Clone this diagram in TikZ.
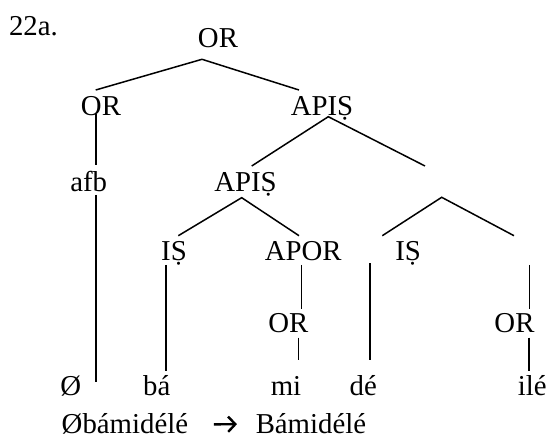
\documentclass[tikz,border=0pt]{standalone}
\usepackage{fontspec}
\setmainfont{Liberation Serif}
\usepackage{tikz}
\usetikzlibrary{positioning,arrows.meta}
\tikzset{lbl/.style={anchor=base,inner sep=0pt}}

\begin{document}
\begin{tikzpicture}[x=0.5pt,y=-0.5pt,line width=0.75pt,font=\fontsize{14.4}{17}\selectfont]
		\useasboundingbox (0,0) rectangle (548,439);

		% labels
		\node[lbl,anchor=base west] (num) at (8.3,35) {22a.};
		\node[lbl] (or0) at (218,47.3) {OR};
		\node[lbl] (or1) at (101,116) {OR};
		\node[lbl] (apis1) at (322,116) {APIṢ};
		\node[lbl] (afb) at (88.7,191.7) {afb};
		\node[lbl] (apis2) at (245.5,191.7) {APIṢ};
		\node[lbl] (is1) at (174,260.7) {IṢ};
		\node[lbl] (apor) at (303.3,260.7) {APOR};
		\node[lbl] (is2) at (408.2,260.7) {IṢ};
		\node[lbl] (or2) at (288.3,332.7) {OR};
		\node[lbl] (or3) at (514.5,332.7) {OR};

		\node[lbl] (w0) at (70.8,395) {Ø};
		\node[lbl] (w1) at (156.7,395) {bá};
		\node[lbl] (w2) at (286,395) {mi};
		\node[lbl] (w3) at (363.3,395) {dé};
		\node[lbl] (w4) at (532.3,395) {ilé};

		\node[lbl,anchor=base west] (in) at (61,434) {Øbámidélé};
		\node[lbl,anchor=base west] (out) at (255,434) {Bámidélé};
		\draw[-{Straight Barb[length=3.6pt,width=7.6pt]},line width=1.2pt]
			([xshift=12.5pt]in.east) -- ([xshift=-9pt]out.west);

		% branch points
		\coordinate (b0) at (202,59.3);
		\coordinate (b0l) at (95.7,90);
		\coordinate (b0r) at (299,90);
		\coordinate (b1) at (328.3,116.7);
		\coordinate (b1l) at (251.7,166);
		\coordinate (b1r) at (425,166);
		\coordinate (b2) at (241.7,197.7);
		\coordinate (b2l) at (178.3,235.7);
		\coordinate (b2r) at (299,235.7);
		\coordinate (b3) at (441.7,197.3);
		\coordinate (b3l) at (382.3,235.7);
		\coordinate (b3r) at (514,235.7);

		\draw (b0l) -- (b0) -- (b0r);
		\draw (b1l) -- (b1) -- (b1r);
		\draw (b2l) -- (b2) -- (b2r);
		\draw (b3l) -- (b3) -- (b3r);

		% vertical lines
		\draw (96,114) -- (96,165);
		\draw (96,195) -- (96,381.7);
		\draw (166,265) -- (166,370.7);
		\draw (301.7,265) -- (301.7,309.3);
		\draw (298.3,337.7) -- (298.3,360);
		\draw (370,263.3) -- (370,360);
		\draw (529.7,265) -- (529.7,309.3);
		\draw (529,337.7) -- (529,370.7);
	\end{tikzpicture}
\end{document}
